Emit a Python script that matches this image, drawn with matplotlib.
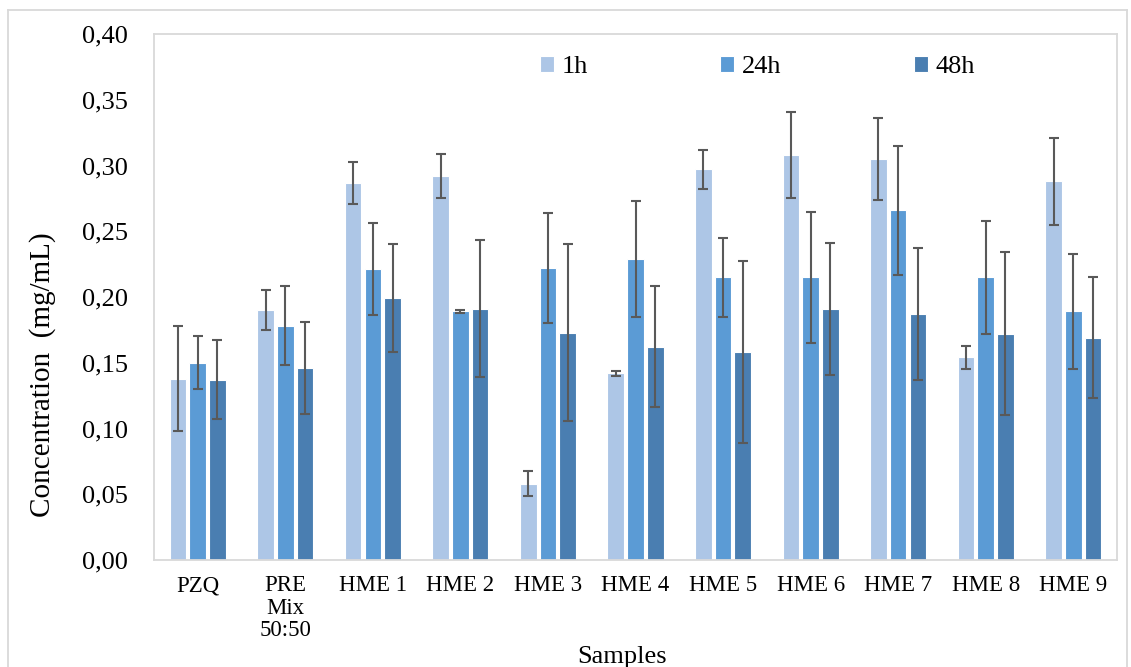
import matplotlib
matplotlib.use('Agg')
import matplotlib.pyplot as plt
import matplotlib.ticker as mticker
from matplotlib.lines import Line2D
import numpy as np

samples = ['PZQ', 'PRE\nMix\n50:50', 'HME 1', 'HME 2', 'HME 3', 'HME 4',
           'HME 5', 'HME 6', 'HME 7', 'HME 8', 'HME 9']
series = ['1h', '24h', '48h']

conc_1h = [0.138, 0.190, 0.287, 0.292, 0.058, 0.142, 0.297, 0.308, 0.305, 0.154, 0.288]
conc_24h = [0.150, 0.178, 0.221, 0.189, 0.222, 0.229, 0.215, 0.215, 0.266, 0.215, 0.189]
conc_48h = [0.137, 0.146, 0.199, 0.191, 0.173, 0.162, 0.158, 0.191, 0.187, 0.172, 0.169]

err_1h = [0.040, 0.015, 0.016, 0.017, 0.0095, 0.002, 0.015, 0.033, 0.031, 0.009, 0.033]
err_24h = [0.020, 0.030, 0.035, 0.001, 0.042, 0.044, 0.030, 0.050, 0.049, 0.043, 0.044]
err_48h = [0.030, 0.035, 0.041, 0.052, 0.067, 0.046, 0.069, 0.050, 0.050, 0.062, 0.046]

colors = ['#adc6e6', '#5b9bd5', '#4a7eb1']

plt.rcParams['font.family'] = ['Liberation Serif', 'DejaVu Serif']

W, H = 1131, 667
fig = plt.figure(figsize=(W / 100, H / 100), dpi=100)
ax = fig.add_axes([154 / W, 1 - 560 / H, (1117 - 154) / W, (560 - 34) / H])

x = np.arange(len(samples))
step = 0.225
width = 0.19
for i, (vals, errs) in enumerate(zip([conc_1h, conc_24h, conc_48h], [err_1h, err_24h, err_48h])):
    ax.bar(x + (i - 1) * step, vals, width, color=colors[i], edgecolor='white',
           linewidth=0.8, label=series[i], zorder=2)
    ax.errorbar(x + (i - 1) * step, vals, yerr=errs, fmt='none', ecolor='#595959',
                elinewidth=1.5, capsize=3.8, capthick=1.5, zorder=3)

ax.set_xlim(-0.5, len(samples) - 0.5)
ax.set_ylim(0, 0.40)
ax.set_yticks(np.arange(0, 0.41, 0.05))
ax.yaxis.set_major_formatter(mticker.FuncFormatter(lambda v, p: f'{v:.2f}'.replace('.', ',')))
ax.set_xticks(x)
ax.set_xticklabels(samples, fontsize=16.5, linespacing=1.1)
ax.tick_params(axis='y', length=0, labelsize=19, pad=19)
ax.tick_params(axis='x', length=0, pad=11)

for s in ax.spines.values():
    s.set_color('#d9d9d9')
    s.set_linewidth(1.3)

fig.text(43 / W, 1 - 375 / H, 'Concentration  (mg/mL)', fontsize=21, rotation=90,
         ha='center', va='center')
fig.text(622 / W, 1 - 657 / H, 'Samples', fontsize=19, ha='center', va='center')

fig.legend(loc='center left', bbox_to_anchor=(540 / W, 1 - 67 / H), ncol=3, frameon=False,
           fontsize=19, handlelength=0.53, handleheight=0.55, handletextpad=0.3,
           columnspacing=5.0, borderpad=0, borderaxespad=0)

# outer chart frame
for xs, ys in [([8, 8], [H, 10]), ([8, 1127], [10, 10]), ([1127, 1127], [10, H])]:
    fig.add_artist(Line2D([v / W for v in xs], [1 - v / H for v in ys], color='#d9d9d9',
                          lw=1.3, transform=fig.transFigure))

fig.savefig('out.png', dpi=100)
